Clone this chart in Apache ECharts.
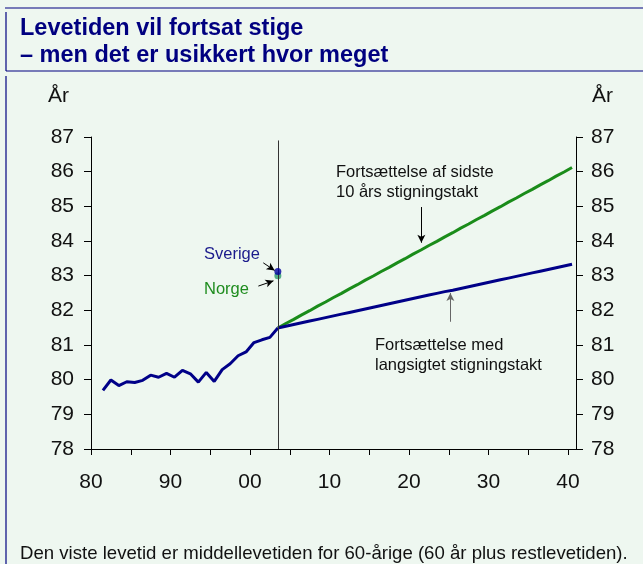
<!DOCTYPE html>
<html>
<head>
<meta charset="utf-8">
<script src="https://cdn.jsdelivr.net/npm/echarts@6/dist/echarts.min.js"></script>
<style>
html,body{margin:0;padding:0;background:#eef7f0;}
#c{width:643px;height:564px;}
</style>
</head>
<body>
<div id="c"></div>
<script>
// Historical data (both countries shown as one blue line), 1981-2003
var histYears = [1981,1982,1983,1984,1985,1986,1987,1988,1989,1990,1991,1992,1993,1994,1995,1996,1997,1998,1999,2000,2001,2002,2003];
var histValues = [79.69,79.99,79.83,79.94,79.92,79.98,80.13,80.07,80.18,80.07,80.27,80.17,79.93,80.21,79.95,80.29,80.46,80.69,80.80,81.07,81.15,81.22,81.49];

// Projections 2003-2040
var projYears = [2003,2004,2005,2006,2007,2008,2009,2010,2011,2012,2013,2014,2015,2016,2017,2018,2019,2020,2021,2022,2023,2024,2025,2026,2027,2028,2029,2030,2031,2032,2033,2034,2035,2036,2037,2038,2039,2040];
var longTermValues = [81.49,81.54,81.59,81.64,81.69,81.74,81.79,81.84,81.89,81.94,81.99,82.04,82.09,82.14,82.19,82.24,82.29,82.34,82.39,82.44,82.49,82.54,82.58,82.63,82.68,82.73,82.78,82.83,82.88,82.93,82.98,83.03,83.08,83.13,83.18,83.23,83.28,83.33];
var recentTrendValues = [81.49,81.62,81.74,81.87,81.99,82.12,82.24,82.37,82.49,82.62,82.74,82.87,82.99,83.12,83.24,83.37,83.49,83.62,83.74,83.87,83.99,84.12,84.24,84.37,84.49,84.62,84.74,84.87,84.99,85.12,85.24,85.37,85.49,85.62,85.74,85.87,85.99,86.12];

// Single points 2003
var pointYear = 2003;
var sverigeValue = 83.12;
var norgeValue = 83.00;

// Axis ticks
var xTickValues = [1980,1985,1990,1995,2000,2005,2010,2015,2020,2025,2030,2035,2040];
var xLabelValues = [1980,1990,2000,2010,2020,2030,2040];
var yMin = 78, yMax = 87;

var NAVY = '#000088';
var GREEN = '#1a8c1a';
var FONT = 'Liberation Sans, Arial, sans-serif';

function pairs(years, vals){ return years.map(function(y,i){ return [y + 0.5, vals[i]]; }); }

var chart = echarts.init(document.getElementById('c'), null, {renderer:'canvas'});

function arrow(x1,y1,x2,y2,color){
  return [
    {coord:[x1,y1], symbol:'none', lineStyle:{color:color,width:1,type:'solid'}},
    {coord:[x2,y2], symbol:'arrow', symbolSize:[6,8]}
  ];
}

var option = {
  backgroundColor:'#eef7f0',
  animation:false,
  grid:{left:91, right:67, top:137, bottom:115, containLabel:false},
  xAxis:{
    type:'value', min:1980, max:2041,
    axisLine:{show:true, lineStyle:{color:'#000', width:1}},
    axisTick:{show:true, length:6, customValues:xTickValues, lineStyle:{color:'#000'}},
    axisLabel:{customValues:xLabelValues, margin:23, color:'#111', fontSize:21, fontFamily:FONT,
      formatter:function(v){ var s = String(Math.round(v)%100); return s.length<2 ? '0'+s : s; }},
    splitLine:{show:false}
  },
  yAxis:[
    {type:'value', min:yMin, max:yMax, interval:1, position:'left',
     axisLine:{show:true, lineStyle:{color:'#000'}},
     axisTick:{show:true, length:7, lineStyle:{color:'#000'}},
     axisLabel:{margin:17, color:'#111', fontSize:21, fontFamily:FONT},
     splitLine:{show:false}},
    {type:'value', min:yMin, max:yMax, interval:1, position:'right',
     axisLine:{show:true, lineStyle:{color:'#000'}},
     axisTick:{show:true, length:7, lineStyle:{color:'#000'}},
     axisLabel:{margin:15, color:'#111', fontSize:21, fontFamily:FONT},
     splitLine:{show:false}}
  ],
  series:[
    {name:'hist', type:'line', data:pairs(histYears,histValues), showSymbol:false, symbol:'none',
     lineStyle:{color:NAVY, width:3}, z:3,
     markLine:{
       silent:true, symbol:'none', label:{show:false}, animation:false,
       emphasis:{disabled:true},
       data:[
         [{coord:[2003.5,78], symbol:'none', lineStyle:{color:'#333',width:1,type:'solid'}},{coord:[2003.5,86.9], symbol:'none'}],
         arrow(2021.55,84.98,2021.55,83.95,'#000'),
         arrow(2025.2,81.67,2025.2,82.50,'#666'),
         arrow(2001.67,83.37,2003.1,83.15,'#000'),
         arrow(2001.05,82.70,2002.95,82.85,'#000')
       ]
     }},
    {name:'long', type:'line', data:pairs(projYears,longTermValues), showSymbol:false, symbol:'none',
     lineStyle:{color:NAVY, width:3}, z:3},
    {name:'recent', type:'line', data:pairs(projYears,recentTrendValues), showSymbol:false, symbol:'none',
     lineStyle:{color:GREEN, width:3}, z:2},
    {name:'Norge', type:'scatter', data:[[pointYear+0.5, norgeValue]], symbol:'circle', symbolSize:7,
     itemStyle:{color:'#2a9a6a'}, z:4},
    {name:'Sverige', type:'scatter', data:[[pointYear+0.5, sverigeValue]], symbol:'circle', symbolSize:7,
     itemStyle:{color:'#0000a0'}, z:5}
  ],
  graphic:[
    {type:'line', shape:{x1:5,y1:8,x2:643,y2:8}, style:{stroke:'#000080', lineWidth:1.2}},
    {type:'line', shape:{x1:6,y1:12,x2:6,y2:71}, style:{stroke:'#000080', lineWidth:1.2}},
    {type:'line', shape:{x1:6,y1:71,x2:643,y2:71}, style:{stroke:'#000080', lineWidth:1.2}},
    {type:'line', shape:{x1:6,y1:76,x2:6,y2:564}, style:{stroke:'#000080', lineWidth:1.2}},
    {type:'text', left:20, top:17, style:{text:'Levetiden vil fortsat stige', fill:'#000080', font:'bold 23.5px '+FONT}},
    {type:'text', left:20, top:44, style:{text:'– men det er usikkert hvor meget', fill:'#000080', font:'bold 23.5px '+FONT}},
    {type:'text', left:48, top:86, style:{text:'År', fill:'#111', font:'21px '+FONT}},
    {type:'text', left:592, top:86, style:{text:'År', fill:'#111', font:'21px '+FONT}},
    {type:'text', left:336, top:162, style:{text:'Fortsættelse af sidste\n10 års stigningstakt', fill:'#111', font:'16.5px '+FONT, lineHeight:20}},
    {type:'text', left:375, top:335, style:{text:'Fortsættelse med\nlangsigtet stigningstakt', fill:'#111', font:'16.5px '+FONT, lineHeight:20}},
    {type:'text', left:204, top:246, style:{text:'Sverige', fill:'#1a1a8c', font:'16.5px '+FONT}},
    {type:'text', left:204, top:281, style:{text:'Norge', fill:'#1e8c1e', font:'16.5px '+FONT}},
    {type:'text', left:20, top:544, style:{text:'Den viste levetid er middellevetiden for 60-årige (60 år plus restlevetiden).', fill:'#111', font:'18.6px '+FONT}}
  ]
};
chart.setOption(option);
</script>
</body>
</html>
